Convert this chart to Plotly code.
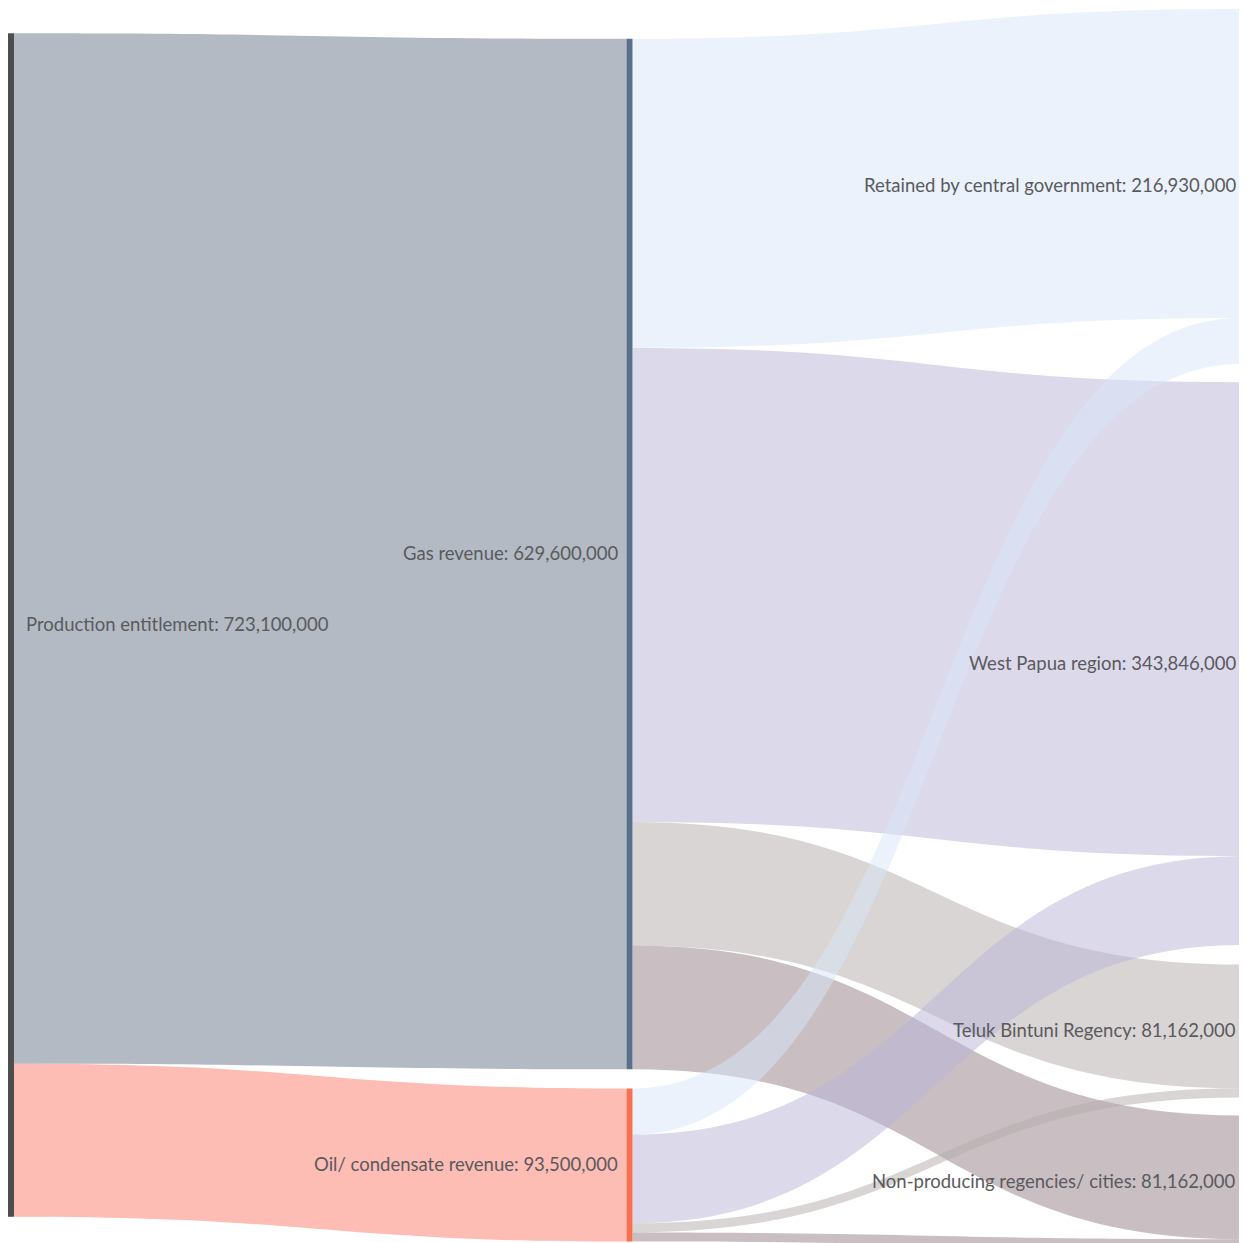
import plotly.graph_objects as go

# Node names and totals
node_names = [
    "Production entitlement",
    "Gas revenue",
    "Oil/ condensate revenue",
    "Retained by central government",
    "West Papua region",
    "Teluk Bintuni Regency",
    "Non-producing regencies/ cities",
]
node_totals = [723100000, 629600000, 93500000, 216930000, 343846000, 81162000, 81162000]

# Flows
link_source = [0, 0, 1, 1, 1, 1, 2, 2, 2, 2]
link_target = [1, 2, 3, 4, 5, 6, 3, 4, 5, 6]
link_value = [629600000, 93500000,
              188880000, 289616000, 75552000, 75552000,
              28050000, 54230000, 5610000, 5610000]

# Node placement (normalised centres, y measured from the top)
node_x = [0.0024, 0.5016, 0.5016, 0.9976, 0.9976, 0.9976, 0.9976]
node_y = [0.4960, 0.4388, 0.9308, 0.1429, 0.5270, 0.8229, 0.9444]

node_colors = ["#4d4d4d", "#587089", "#f7704f", "#d5e4f5", "#b0a5d8", "#aca5a3", "#6e5f66"]
target_link_colors = {
    1: "rgba(103,117,135,0.5)",
    2: "rgba(251,121,105,0.5)",
    3: "rgba(215,229,247,0.5)",
    4: "rgba(185,179,215,0.5)",
    5: "rgba(179,171,169,0.5)",
    6: "rgba(147,127,135,0.5)",
}

FIG_W, FIG_H = 1239, 1243
MARGIN = dict(l=0, r=0, t=1, b=0)
THICK = 6
PLOT_W = FIG_W - MARGIN["l"] - MARGIN["r"]

labels = [f"{n}: {v:,}" for n, v in zip(node_names, node_totals)]
link_colors = [target_link_colors[t] for t in link_target]

fig = go.Figure(go.Sankey(
    arrangement="fixed",
    node=dict(
        label=[""] * len(labels),
        customdata=labels,
        hovertemplate="%{customdata}<extra></extra>",
        color=node_colors,
        thickness=THICK,
        pad=19.5,
        line=dict(width=0),
        x=node_x,
        y=node_y,
    ),
    link=dict(
        source=link_source,
        target=link_target,
        value=link_value,
        color=link_colors,
    ),
))

# Node labels: right of the first column, left of the other columns
font = dict(family="Lato", size=18.5, color="#5a5a5e")
for lab, nx, ny in zip(labels, node_x, node_y):
    if nx < 0.25:
        x = (nx * PLOT_W + THICK / 2) / PLOT_W
        anchor, shift = "left", 12
    elif nx < 0.75:
        x = (nx * PLOT_W - THICK / 2) / PLOT_W
        anchor, shift = "right", -8
    else:
        x = (nx * PLOT_W - THICK / 2) / PLOT_W
        anchor, shift = "right", -5
    fig.add_annotation(
        text=lab, x=x, y=1 - ny, xref="paper", yref="paper",
        xanchor=anchor, yanchor="middle", xshift=shift, yshift=1,
        showarrow=False, font=font, borderpad=0, borderwidth=0,
    )

fig.update_layout(
    width=FIG_W,
    height=FIG_H,
    margin=MARGIN,
    paper_bgcolor="white",
    font=dict(family="Lato"),
)

fig.write_html("out.html")
